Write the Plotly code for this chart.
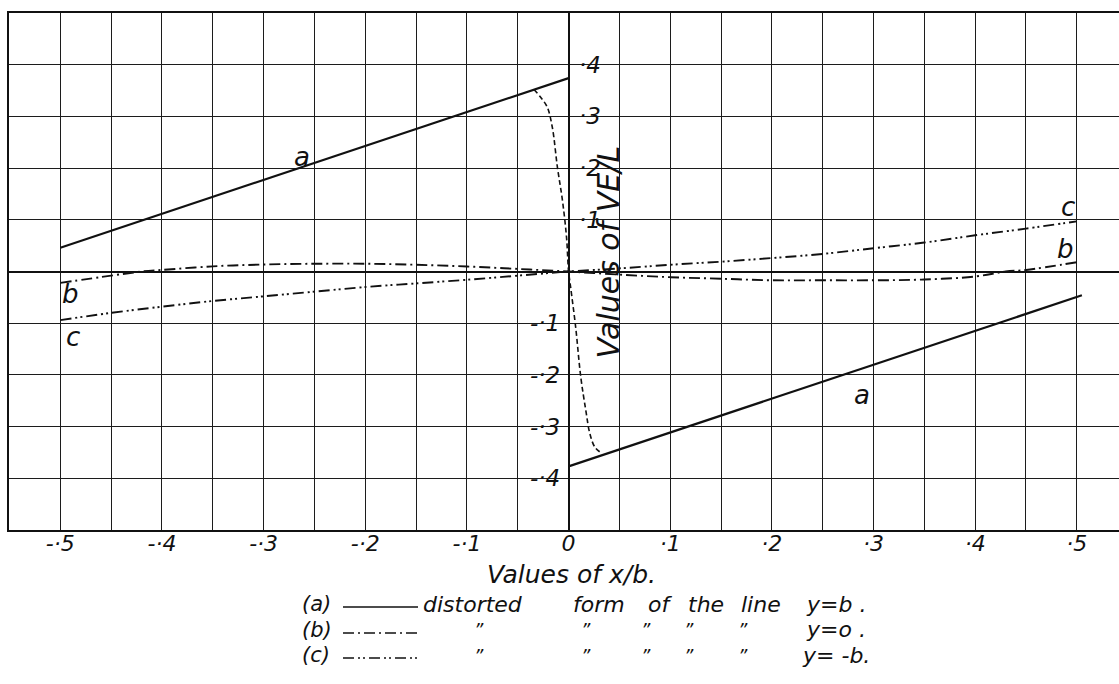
import plotly.graph_objects as go

# ---------------- data ----------------
# (a) distorted form of the line y=b  (two straight pieces, jump at x=0)
A_X = [-0.5, 0.0, None, 0.0, 0.505]
A_Y = [0.046, 0.374, None, -0.377, -0.046]

# dashed transition curve near x = 0
D_X = [-0.034, -0.0275, -0.021, -0.016, -0.011, -0.006, -0.002, 0.0,
       0.002, 0.007, 0.012, 0.017, 0.021, 0.026, 0.033]
D_Y = [0.352, 0.337, 0.318, 0.279, 0.202, 0.137, 0.066, 0.0,
       -0.030, -0.108, -0.204, -0.269, -0.314, -0.340, -0.352]

# (b) distorted form of the line y=0
B_X = [-0.5, -0.45, -0.42, -0.4, -0.35, -0.3, -0.25, -0.2, -0.15, -0.1, -0.05, 0.0,
       0.05, 0.1, 0.15, 0.2, 0.25, 0.3, 0.35, 0.4, 0.43, 0.45, 0.5]
B_Y = [-0.022, -0.008, 0.0, 0.003, 0.010, 0.0135, 0.015, 0.015, 0.013, 0.0097, 0.005, 0.0,
       -0.006, -0.011, -0.014, -0.017, -0.017, -0.017, -0.0155, -0.0097, 0.0, 0.003, 0.018]

# (c) distorted form of the line y=-b
C_X = [-0.5, -0.45, -0.4, -0.35, -0.3, -0.25, -0.2, -0.15, -0.1, -0.05, 0.0,
       0.05, 0.1, 0.15, 0.2, 0.25, 0.3, 0.35, 0.4, 0.45, 0.5]
C_Y = [-0.094, -0.080, -0.068, -0.057, -0.048, -0.039, -0.030, -0.023, -0.016, -0.008, 0.0,
       0.006, 0.013, 0.019, 0.026, 0.034, 0.045, 0.056, 0.070, 0.083, 0.097]

X_TICKS = [-0.5, -0.4, -0.3, -0.2, -0.1, 0.0, 0.1, 0.2, 0.3, 0.4, 0.5]
X_TICKTEXT = ["-·5", "-·4", "-·3", "-·2", "-·1", "0", "·1", "·2", "·3", "·4", "·5"]
Y_TICKS_POS = [0.1, 0.2, 0.3, 0.4]
Y_TICKTEXT_POS = ["·1", "·2", "·3", "·4"]
Y_TICKS_NEG = [-0.1, -0.2, -0.3, -0.4]
Y_TICKTEXT_NEG = ["-·1", "-·2", "-·3", "-·4"]

CURVE_LABELS = ["a", "a", "b", "b", "c", "c"]
CURVE_LABEL_X = [-0.262, 0.289, -0.49, 0.489, -0.488, 0.491]
CURVE_LABEL_Y = [0.222, -0.238, -0.043, 0.044, -0.126, 0.124]

X_TITLE = "Values of x/b."
Y_TITLE = "Values of VE/L"

LEGEND_KEYS = ["(a)", "(b)", "(c)"]
LEGEND_WORDS = ["distorted", "form", "of", "the", "line"]
LEGEND_ENDINGS = ["y=b .", "y=o .", "y= -b."]
DITTO = "\u201d"

# ---------------- style ----------------
INK = "#111111"
GRID = "#1c1c1c"
FONT = "DejaVu Sans"
W, H = 1119, 684
ML, MR, MT, MB = 9, 0, 13, 154


def fx(px):
    return (px - ML) / (W - ML - MR)


def fy(py):
    return (H - MB - py) / (H - MT - MB)


def tfont(size):
    return dict(family=FONT, size=size, color=INK, style="italic")


fig = go.Figure()
fig.add_trace(go.Scatter(x=A_X, y=A_Y, mode="lines", name="a",
                         line=dict(color=INK, width=2.2)))
fig.add_trace(go.Scatter(x=D_X, y=D_Y, mode="lines", name="transition",
                         line=dict(color=INK, width=1.6, dash="5px,3px", shape="spline")))
fig.add_trace(go.Scatter(x=B_X, y=B_Y, mode="lines", name="b",
                         line=dict(color=INK, width=1.9, dash="11px,4px,2px,4px", shape="spline")))
fig.add_trace(go.Scatter(x=C_X, y=C_Y, mode="lines", name="c",
                         line=dict(color=INK, width=1.9, dash="11px,4px,2px,3px,2px,4px", shape="spline")))

ann = []
for v, t in zip(Y_TICKS_POS, Y_TICKTEXT_POS):
    ann.append(dict(x=0.008, y=v, xref="x", yref="y", text=t, showarrow=False,
                    xanchor="left", yanchor="middle", font=tfont(23)))
for v, t in zip(Y_TICKS_NEG, Y_TICKTEXT_NEG):
    ann.append(dict(x=-0.006, y=v, xref="x", yref="y", text=t, showarrow=False,
                    xanchor="right", yanchor="middle", font=tfont(23)))
ann.append(dict(x=0.039, y=0.037, xref="x", yref="y", text=Y_TITLE, showarrow=False,
                textangle=-90, xanchor="center", yanchor="middle", font=tfont(30)))
for t, x, y in zip(CURVE_LABELS, CURVE_LABEL_X, CURVE_LABEL_Y):
    ann.append(dict(x=x, y=y, xref="x", yref="y", text=t, showarrow=False,
                    xanchor="center", yanchor="middle", font=tfont(26)))

# x-axis title placed just under the tick labels
ann.append(dict(x=fx(571), y=fy(574), xref="paper", yref="paper", text=X_TITLE, showarrow=False,
                xanchor="center", yanchor="middle", font=tfont(25)))

# legend block under the chart
ROW_Y = [604, 630, 655]
WORD_PX = [421, 571, 646, 686, 739]
DITTO_PX = [479, 586, 646, 689, 743]
END_PX = [804, 804, 800]
SAMPLE_DASH = ["solid", "11px,4px,2px,4px", "11px,4px,2px,3px,2px,4px"]
shapes = []
for i, key in enumerate(LEGEND_KEYS):
    yy = fy(ROW_Y[i])
    ann.append(dict(x=fx(300), y=yy, xref="paper", yref="paper", text=key, showarrow=False,
                    xanchor="left", yanchor="middle", font=tfont(21)))
    shapes.append(dict(type="line", xref="paper", yref="paper", x0=fx(343), x1=fx(418),
                       y0=fy(ROW_Y[i] + 3), y1=fy(ROW_Y[i] + 3),
                       line=dict(color=INK, width=1.6, dash=SAMPLE_DASH[i])))
    if i == 0:
        for w, px in zip(LEGEND_WORDS, WORD_PX):
            ann.append(dict(x=fx(px), y=yy, xref="paper", yref="paper", text=w, showarrow=False,
                            xanchor="left", yanchor="middle", font=tfont(22)))
    else:
        for px in DITTO_PX:
            ann.append(dict(x=fx(px), y=yy, xref="paper", yref="paper", text=DITTO, showarrow=False,
                            xanchor="center", yanchor="middle", font=tfont(18)))
    ann.append(dict(x=fx(END_PX[i]), y=yy, xref="paper", yref="paper", text=LEGEND_ENDINGS[i],
                    showarrow=False, xanchor="left", yanchor="middle", font=tfont(22)))

fig.update_layout(
    width=W, height=H,
    margin=dict(l=ML, r=MR, t=MT, b=MB, autoexpand=False),
    paper_bgcolor="white", plot_bgcolor="white",
    showlegend=False,
    annotations=ann, shapes=shapes,
)
fig.update_xaxes(
    range=[-0.5505, 0.5415], tickmode="array", tickvals=X_TICKS, ticktext=X_TICKTEXT,
    ticks="", tickfont=tfont(22), ticklabelstandoff=-7,
    showgrid=True, gridcolor=GRID, gridwidth=1.4,
    minor=dict(dtick=0.05, tick0=0, showgrid=True, gridcolor=GRID, gridwidth=1.4, ticks=""),
    zeroline=True, zerolinecolor=INK, zerolinewidth=2.4,
    showline=True, linecolor=INK, linewidth=1.8, mirror=True,
    automargin=False, fixedrange=True,
)
fig.update_yaxes(
    range=[-0.5, 0.5], dtick=0.1, tick0=0, showticklabels=False, ticks="",
    showgrid=True, gridcolor=GRID, gridwidth=1.4,
    zeroline=True, zerolinecolor=INK, zerolinewidth=2.4,
    showline=True, linecolor=INK, linewidth=1.8, mirror=True,
    automargin=False, fixedrange=True,
)

fig.write_html("out.html")
